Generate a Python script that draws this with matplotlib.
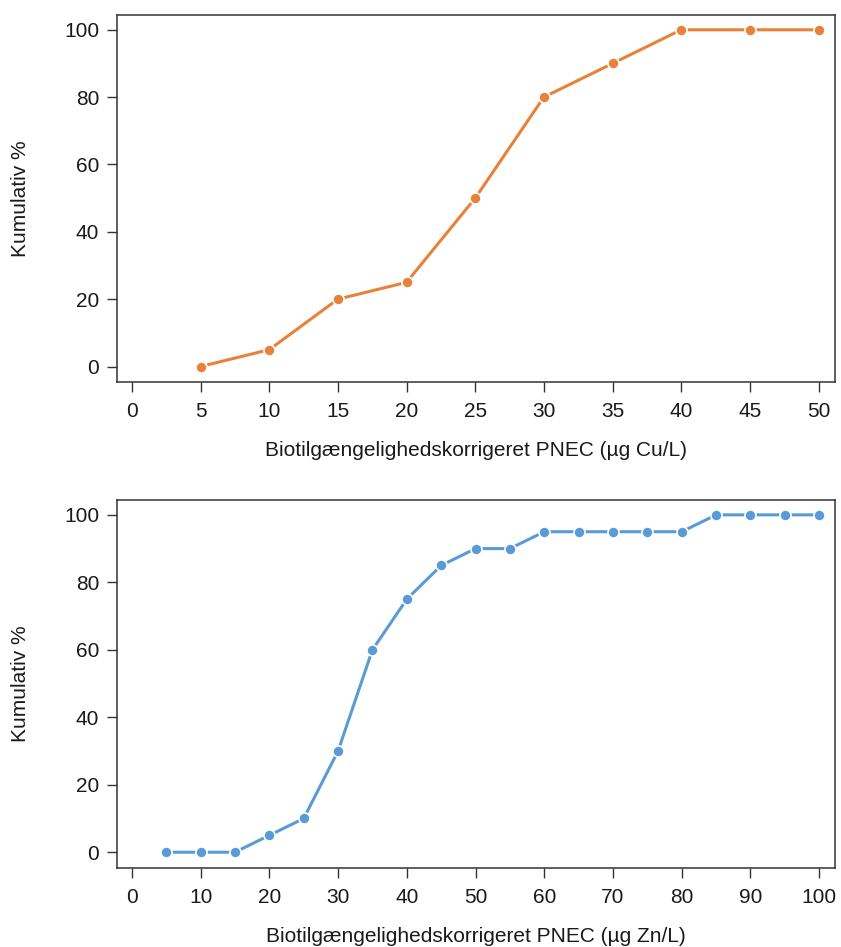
import numpy as np
import matplotlib.pyplot as plt

plt.rcParams['font.family'] = ['Liberation Sans', 'DejaVu Sans']

# Cu data
cu_pnec = [5, 10, 15, 20, 25, 30, 35, 40, 45, 50]
cu_cum = [0, 5, 20, 25, 50, 80, 90, 100, 100, 100]
cu_ticks = [0, 5, 10, 15, 20, 25, 30, 35, 40, 45, 50]

# Zn data
zn_pnec = [5, 10, 15, 20, 25, 30, 35, 40, 45, 50, 55, 60, 65, 70, 75, 80, 85, 90, 95, 100]
zn_cum = [0, 0, 0, 5, 10, 30, 60, 75, 85, 90, 90, 95, 95, 95, 95, 95, 100, 100, 100, 100]
zn_ticks = [0, 10, 20, 30, 40, 50, 60, 70, 80, 90, 100]

y_ticks = [0, 20, 40, 60, 80, 100]

orange = '#E8823A'
blue = '#5B9BD5'

fig = plt.figure(figsize=(8.41, 9.47), dpi=100)
ax1 = fig.add_axes([0.1388, 0.5966, 0.8541, 0.3876])
ax2 = fig.add_axes([0.1388, 0.0837, 0.8541, 0.3883])


def style(ax, xticks, xlabel, xlim):
    ax.set_xlim(*xlim)
    ax.set_ylim(-4.6, 104.4)
    ax.set_xticks(xticks)
    ax.set_yticks(y_ticks)
    ax.tick_params(axis='both', direction='out', length=7.5, width=1.0,
                   color='#333333', labelsize=15, labelcolor='#1a1a1a')
    ax.tick_params(axis='x', pad=7)
    ax.tick_params(axis='y', pad=5)
    for s in ax.spines.values():
        s.set_color('#333333')
        s.set_linewidth(1.1)
    ax.set_xlabel(xlabel, fontsize=15, color='#1a1a1a')
    ax.set_ylabel('Kumulativ %', fontsize=15, color='#1a1a1a')
    ax.xaxis.set_label_coords(0.5, -0.162)
    ax.yaxis.set_label_coords(-0.121, 0.5)


ax1.plot(cu_pnec, cu_cum, color=orange, lw=2.2, marker='o', ms=8,
         mfc=orange, mec='white', mew=1.2)
style(ax1, cu_ticks, 'Biotilgængelighedskorrigeret PNEC (µg Cu/L)', (-1.1, 51.2))

ax2.plot(zn_pnec, zn_cum, color=blue, lw=2.2, marker='o', ms=8,
         mfc=blue, mec='white', mew=1.2)
style(ax2, zn_ticks, 'Biotilgængelighedskorrigeret PNEC (µg Zn/L)', (-2.2, 102.3))

fig.savefig('out.png', dpi=100)
